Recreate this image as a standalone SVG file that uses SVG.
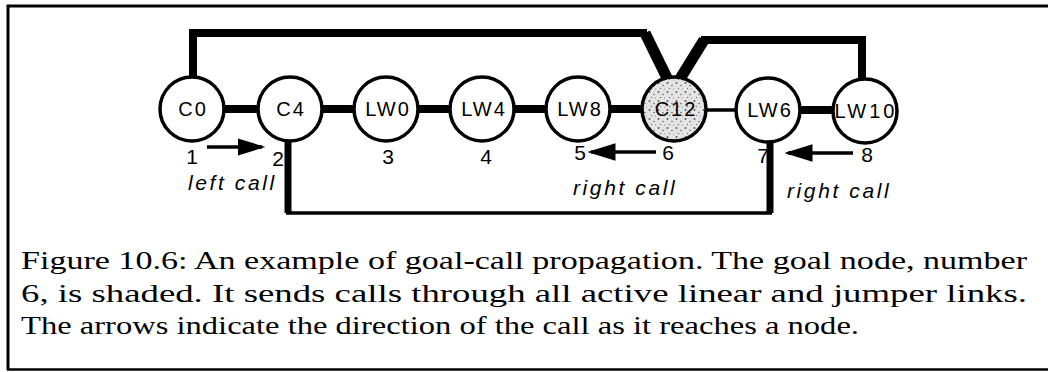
<svg xmlns="http://www.w3.org/2000/svg" width="1048" height="372" viewBox="0 0 1048 372">
<style>
.node{fill:#fff;stroke:#000;stroke-width:3.5}
.lbl{font-family:"Liberation Sans",Arial,sans-serif;font-size:20px;letter-spacing:2px;text-anchor:middle;fill:#000}
.num{font-family:"Liberation Sans",Arial,sans-serif;font-size:21px;text-anchor:middle;fill:#000}
.call{font-family:"Liberation Sans",Arial,sans-serif;font-size:21px;font-style:italic;letter-spacing:2.6px;fill:#000}
.cap{font-family:"Liberation Serif","Times New Roman",serif;font-size:25px;fill:#000}
.thick{stroke:#000;stroke-width:8;fill:none}
.thin{stroke:#000;stroke-width:3.5;fill:none}
.arr{stroke:#000;stroke-width:3.5;fill:none;marker-end:url(#ah)}
</style>
<defs>
<marker id="ah" markerWidth="8" markerHeight="5" refX="7" refY="2.5" orient="auto" markerUnits="strokeWidth">
<path d="M0,0 L8,2.5 L0,5 Z" fill="#000"/>
</marker>
<pattern id="stip" width="9" height="9" patternUnits="userSpaceOnUse">
<rect width="9" height="9" fill="#e4e4e4"/>
<circle cx="1.5" cy="2" r="0.9" fill="#555"/>
<circle cx="6" cy="4.5" r="0.8" fill="#666"/>
<circle cx="3.5" cy="7.5" r="0.7" fill="#777"/>
<circle cx="7.5" cy="8" r="0.6" fill="#888"/>
</pattern>
</defs>
<g id="frame" stroke="#000" fill="none">
<path d="M8,370 V6 H1048" stroke-width="3"/>
<path d="M7,369.5 H1048" stroke-width="2.5"/>
</g>
<g id="connectors">
<path class="thick" d="M193,78 V33 H647"/>
<path d="M645,33 L669,82" stroke="#000" stroke-width="11" fill="none"/>
<path d="M678,82 L704,40" stroke="#000" stroke-width="11" fill="none"/>
<path class="thick" d="M701,40 H862 V81"/>
<path d="M288,139 V213" stroke="#000" stroke-width="7" fill="none"/>
<path class="thin" d="M286,213 H772"/>
<path d="M770,139 V213" stroke="#000" stroke-width="7" fill="none"/>
<line class="thick" x1="222" y1="109" x2="260" y2="109"/>
<line class="thick" x1="320" y1="109" x2="356" y2="109"/>
<line class="thick" x1="416" y1="109" x2="452" y2="109"/>
<line class="thick" x1="512" y1="109" x2="548" y2="109"/>
<line class="thick" x1="608" y1="109" x2="644" y2="109"/>
<line class="thin" x1="704" y1="110" x2="738" y2="110"/>
<line class="thick" x1="798" y1="110" x2="835" y2="110"/>
<circle cx="224" cy="109" r="4"/>
<circle cx="322" cy="109" r="4"/>
<circle cx="610" cy="109" r="4"/>
<line class="arr" x1="207" y1="147" x2="262" y2="147"/>
<line class="arr" x1="656" y1="152" x2="591" y2="152"/>
<line class="arr" x1="853" y1="153" x2="788" y2="153"/>
</g>
<g id="n1"><circle class="node" cx="192" cy="109" r="32"/><text class="lbl" x="193" y="116">C0</text><text class="num" x="192" y="164">1</text></g>
<g id="n2"><circle class="node" cx="290" cy="109" r="32"/><text class="lbl" x="291" y="116">C4</text><text class="num" x="278" y="166">2</text></g>
<g id="n3"><circle class="node" cx="386" cy="109" r="32"/><text class="lbl" x="388" y="116">LW0</text><text class="num" x="388" y="164">3</text></g>
<g id="n4"><circle class="node" cx="482" cy="109" r="32"/><text class="lbl" x="484" y="116">LW4</text><text class="num" x="486" y="164">4</text></g>
<g id="n5"><circle class="node" cx="578" cy="109" r="32"/><text class="lbl" x="580" y="116">LW8</text><text class="num" x="580" y="160">5</text></g>
<g id="n6"><circle class="node" cx="674" cy="109" r="32" style="fill:url(#stip)"/><text class="lbl" x="676" y="116">C12</text><text class="num" x="668" y="160">6</text></g>
<g id="n7"><circle class="node" cx="768" cy="110" r="32"/><text class="lbl" x="770" y="117">LW6</text><text class="num" x="763" y="163">7</text></g>
<g id="n8"><circle class="node" cx="865" cy="111" r="32"/><text class="lbl" x="866" y="118" style="letter-spacing:3px">LW10</text><text class="num" x="867" y="162">8</text></g>
<g id="labels">
<text class="call" x="188" y="190">left call</text>
<text class="call" x="573" y="195">right call</text>
<text class="call" x="787" y="198">right call</text>
</g>
<g id="caption">
<text class="cap" x="21" y="269" textLength="1006" lengthAdjust="spacingAndGlyphs">Figure 10.6: An example of goal-call propagation. The goal node, number</text>
<text class="cap" x="21" y="302" textLength="1006" lengthAdjust="spacingAndGlyphs">6, is shaded. It sends calls through all active linear and jumper links.</text>
<text class="cap" x="21" y="334" textLength="838" lengthAdjust="spacingAndGlyphs">The arrows indicate the direction of the call as it reaches a node.</text>
</g>
</svg>
